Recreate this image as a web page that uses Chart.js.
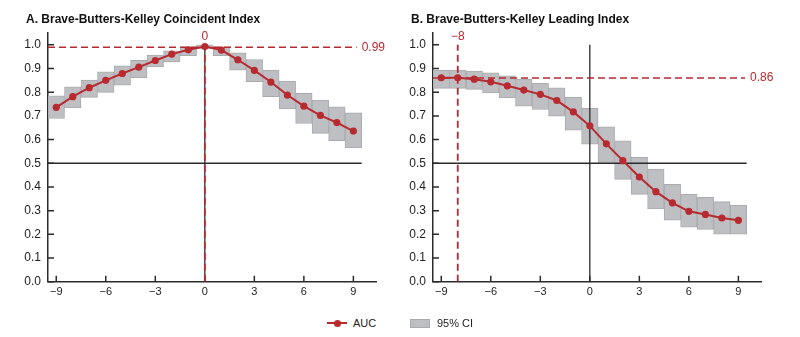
<!DOCTYPE html>
<html>
<head>
<meta charset="utf-8">
<script src="https://cdn.jsdelivr.net/npm/chart.js@4.4.1/dist/chart.umd.min.js"></script>
<style>
    body { margin: 0; background: #fff; width: 800px; height: 337px; overflow: hidden; position: relative;
           font-family: 'Liberation Sans', Arial, Helvetica, sans-serif; }
    .panel { position: absolute; top: 0; width: 395px; height: 305px; }
    #panelA { left: 0; }
    #panelB { left: 385px; }
    .title { position: absolute; top: 12px; left: 26px; font-size: 12px; line-height: 14px; font-weight: bold; color: #111; white-space: nowrap; }
    .legend-item { position: absolute; top: 316px; height: 14px; font-size: 11px; line-height: 14px; color: #222; }
    .swatch-line { position: absolute; top: 6px; left: 0; width: 20px; height: 2px; background: #b72a30; }
    .swatch-dot { position: absolute; top: 3.5px; left: 6.5px; width: 7px; height: 7px; border-radius: 50%; background: #b72a30; }
    .swatch-box { position: absolute; top: 3px; left: 0; width: 18px; height: 7px; background: #bdbfc2; border: 1px solid #a8aaad; }
    .legend-item span.label { position: absolute; left: 26px; top: 0; white-space: nowrap; }
</style>
</head>
<body>
<div class="panel" id="panelA">
    <canvas id="chartA" width="395" height="305"></canvas>
    <div class="title">A. Brave-Butters-Kelley Coincident Index</div>
</div>
<div class="panel" id="panelB">
    <canvas id="chartB" width="395" height="305"></canvas>
    <div class="title">B. Brave-Butters-Kelley Leading Index</div>
</div>

<div class="legend-item" style="left:327px;width:60px;">
    <div class="swatch-line"></div><div class="swatch-dot"></div><span class="label">AUC</span>
</div>
<div class="legend-item" style="left:410px;width:80px;">
    <div class="swatch-box"></div><span class="label" style="left:27px">95% CI</span>
</div>

<script>
// Data
const lags = [-9, -8, -7, -6, -5, -4, -3, -2, -1, 0, 1, 2, 3, 4, 5, 6, 7, 8, 9];

const coincAuc = [0.736, 0.781, 0.819, 0.850, 0.879, 0.906, 0.934, 0.961, 0.979, 0.993,
                  0.978, 0.937, 0.892, 0.843, 0.788, 0.741, 0.702, 0.672, 0.636];
const coincHi  = [0.785, 0.823, 0.851, 0.886, 0.911, 0.935, 0.957, 0.975, 0.992, 1.000,
                  0.992, 0.966, 0.938, 0.893, 0.847, 0.795, 0.767, 0.738, 0.713];
const coincLo  = [0.689, 0.734, 0.778, 0.799, 0.830, 0.861, 0.907, 0.928, 0.954, 0.985,
                  0.954, 0.893, 0.844, 0.781, 0.729, 0.668, 0.626, 0.595, 0.565];

const leadAuc = [0.861, 0.861, 0.855, 0.844, 0.827, 0.809, 0.791, 0.765, 0.717, 0.658,
                 0.582, 0.511, 0.442, 0.380, 0.333, 0.297, 0.284, 0.269, 0.259];
const leadHi  = [0.893, 0.893, 0.889, 0.882, 0.869, 0.855, 0.837, 0.819, 0.778, 0.732,
                 0.654, 0.595, 0.525, 0.476, 0.411, 0.369, 0.356, 0.338, 0.324];
const leadLo  = [0.816, 0.816, 0.812, 0.797, 0.776, 0.741, 0.727, 0.699, 0.640, 0.581,
                 0.504, 0.432, 0.369, 0.307, 0.260, 0.230, 0.221, 0.201, 0.201];

const xTickValues = [-9, -6, -3, 0, 3, 6, 9];
const yTickValues = [0, 0.1, 0.2, 0.3, 0.4, 0.5, 0.6, 0.7, 0.8, 0.9, 1.0];

// Axis ranges / reference lines
const X_MIN = -9.5, X_MAX = 10.4, Y_MIN = 0, Y_MAX = 1.05;
const HALF_LINE = 0.5, HALF_LINE_END = 9.5;

// Colours
const RED = '#b72a30';
const AXIS = '#2b2b2b';
const CI_FILL = '#bdbfc2';
const CI_EDGE = '#a8aaad';
const FONT = "'Liberation Sans', Arial, Helvetica, sans-serif";

const fmtLag = v => (v < 0 ? '\u2212' + Math.abs(v) : String(v));

// Tick marks point into the plot area
const insideTicks = {
    id: 'insideTicks',
    beforeDatasetsDraw(chart) {
        const { ctx, chartArea: a, scales: { x, y } } = chart;
        ctx.save();
        ctx.strokeStyle = AXIS;
        ctx.lineWidth = 1.5;
        ctx.beginPath();
        xTickValues.forEach(v => {
            const px = x.getPixelForValue(v);
            ctx.moveTo(px, a.bottom);
            ctx.lineTo(px, a.bottom - 6);
        });
        yTickValues.forEach(v => {
            const py = y.getPixelForValue(v);
            ctx.moveTo(a.left, py);
            ctx.lineTo(a.left + 6, py);
        });
        ctx.stroke();
        ctx.restore();
    }
};

// Text labels for the red reference lines
const refLabels = {
    id: 'refLabels',
    afterDatasetsDraw(chart, args, opts) {
        const { ctx, scales: { x, y } } = chart;
        ctx.save();
        ctx.fillStyle = RED;
        ctx.font = '12px ' + FONT;
        ctx.textAlign = 'left';
        ctx.textBaseline = 'middle';
        ctx.fillText(opts.refY.toFixed(2), x.getPixelForValue(opts.hEnd) + 5, y.getPixelForValue(opts.refY));
        ctx.textAlign = 'center';
        ctx.textBaseline = 'alphabetic';
        ctx.fillText(fmtLag(opts.refX), x.getPixelForValue(opts.refX), y.getPixelForValue(1.0) - 5);
        ctx.restore();
    }
};

function makeChart(id, auc, lo, hi, refX, refY, hEnd) {
    const ctx = document.getElementById(id).getContext('2d');
    return new Chart(ctx, {
        type: 'line',
        data: {
            datasets: [
                {
                    type: 'bar',
                    label: '95% CI',
                    data: lags.map((l, i) => ({ x: l, y: [lo[i], hi[i]] })),
                    backgroundColor: CI_FILL,
                    borderColor: CI_EDGE,
                    borderWidth: 1,
                    borderSkipped: false,
                    barPercentage: 1,
                    categoryPercentage: 1,
                    order: 5
                },
                {
                    label: 'half',
                    data: [{ x: X_MIN, y: HALF_LINE }, { x: HALF_LINE_END, y: HALF_LINE }],
                    borderColor: AXIS, borderWidth: 1.3, pointRadius: 0, order: 4
                },
                {
                    label: 'zero',
                    data: [{ x: 0, y: 0 }, { x: 0, y: 1.0 }],
                    borderColor: AXIS, borderWidth: 1.3, pointRadius: 0, order: 4
                },
                {
                    label: 'refY',
                    data: [{ x: X_MIN, y: refY }, { x: hEnd, y: refY }],
                    borderColor: RED, borderWidth: 1.6, borderDash: [7, 4], pointRadius: 0, order: 3
                },
                {
                    label: 'refX',
                    data: [{ x: refX, y: 0 }, { x: refX, y: 1.0 }],
                    borderColor: RED, borderWidth: 1.8, borderDash: [7, 4], pointRadius: 0, order: 3
                },
                {
                    label: 'AUC',
                    data: lags.map((l, i) => ({ x: l, y: auc[i] })),
                    borderColor: RED,
                    borderWidth: 2,
                    pointRadius: 3.6,
                    pointBackgroundColor: RED,
                    pointBorderWidth: 0,
                    tension: 0,
                    order: 1
                }
            ]
        },
        options: {
            responsive: false,
            animation: false,
            layout: { padding: { left: 0, right: 18.5, top: 33, bottom: 0 } },
            scales: {
                x: {
                    type: 'linear',
                    min: X_MIN,
                    max: X_MAX,
                    offset: false,
                    grid: { display: false, drawTicks: false },
                    border: { display: true, color: AXIS, width: 1.5 },
                    afterBuildTicks: s => { s.ticks = xTickValues.map(v => ({ value: v })); },
                    afterFit: s => { s.height = 23.3; },
                    ticks: {
                        autoSkip: false,
                        maxRotation: 0,
                        padding: 4,
                        color: '#222',
                        font: { family: FONT, size: 11 },
                        callback: v => fmtLag(v)
                    }
                },
                y: {
                    min: Y_MIN,
                    max: Y_MAX,
                    grid: { display: false, drawTicks: false },
                    border: { display: true, color: AXIS, width: 1.5 },
                    afterBuildTicks: s => { s.ticks = yTickValues.map(v => ({ value: v })); },
                    afterFit: s => { s.width = 48; },
                    ticks: {
                        padding: 7,
                        color: '#222',
                        font: { family: FONT, size: 12 },
                        callback: v => Number(v).toFixed(1)
                    }
                }
            },
            plugins: {
                legend: { display: false },
                tooltip: { enabled: false },
                refLabels: { refX, refY, hEnd }
            }
        },
        plugins: [insideTicks, refLabels]
    });
}

makeChart('chartA', coincAuc, coincLo, coincHi, 0, 0.99, 9.2);
makeChart('chartB', leadAuc, leadLo, leadHi, -8, 0.86, 9.4);
</script>
</body>
</html>
